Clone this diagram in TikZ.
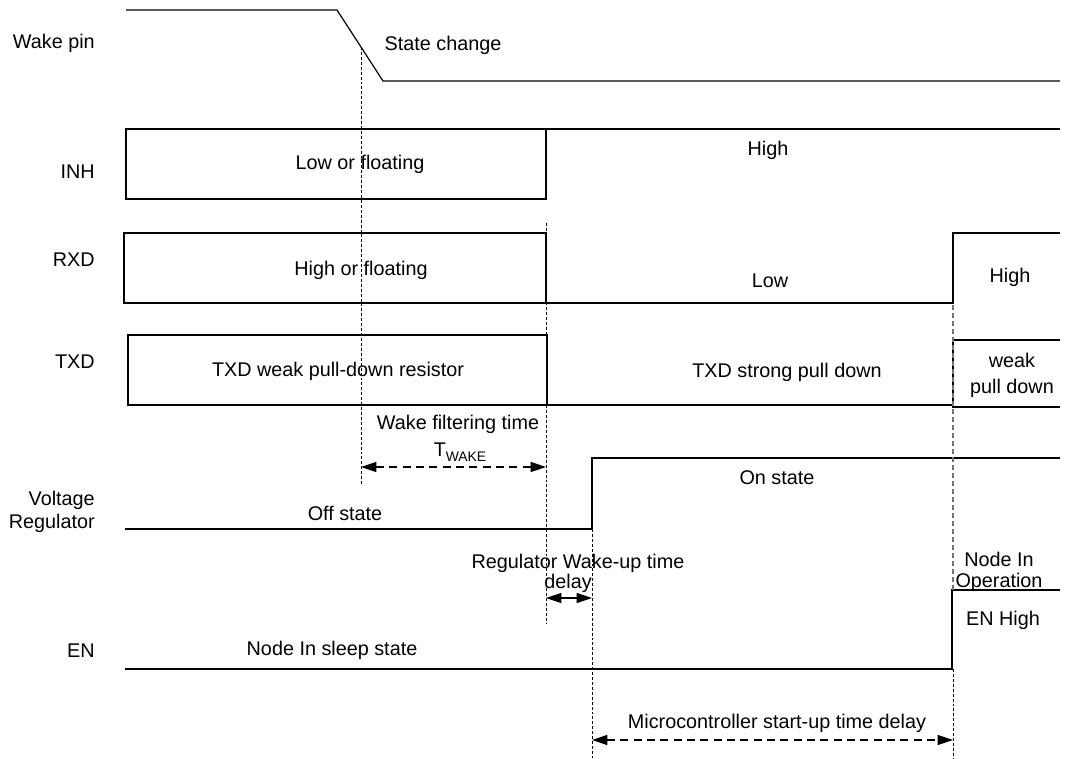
\documentclass[tikz,border=0pt]{standalone}
\usepackage{fontspec}
\setmainfont{Liberation Sans}
\usetikzlibrary{arrows.meta}
\begin{document}
\begin{tikzpicture}[x=0.75pt,y=-0.75pt,
  sig/.style={line width=0.9pt, line join=miter},
  vmark/.style={line width=0.6pt, dash pattern=on 2.2pt off 1.5pt},
  vmarkg/.style={line width=0.9pt, draw=black!55, dash pattern=on 3.5pt off 2.5pt},
  tip/.tip={Triangle[length=11.5pt,width=7.5pt]},
  span/.style={line width=0.9pt, dash pattern=on 6pt off 4pt, tip-tip},
  spansolid/.style={line width=0.9pt, tip-tip},
  lbl/.style={inner sep=0pt, font=\fontsize{14.85}{17.8}\selectfont},
]
\useasboundingbox (0,0) rectangle (1065,758);

% signal traces
\draw[sig] (126,10) -- (337,10) -- (383,81) -- (1060,81);
\draw[sig] (126,129) rectangle (546,199);
\draw[sig] (546,129) -- (1060,129);
\draw[sig] (124,233) rectangle (546,303);
\draw[sig] (546,303) -- (953,303) -- (953,233) -- (1060,233);
\draw[sig] (128,335) rectangle (547,405);
\draw[sig] (547,405) -- (953,405);
\draw[sig] (1060,340) -- (953,340) -- (953,407) -- (1060,407);
\draw[sig] (125,529) -- (592,529) -- (592,458) -- (1060,458);
\draw[sig] (125,669) -- (952,669) -- (952,590) -- (1060,590);

% vertical markers
\draw[vmark] (361,47) -- (361,485);
\draw[vmark] (546,223) -- (546,623);
\draw[vmark] (592,529) -- (592,758);
\draw[vmarkg] (953,305) -- (953,590);
\draw[vmark] (953,669) -- (953,758);

% timing arrows
\coordinate (wA) at (361,467);
\coordinate (wB) at (546,467);
\coordinate (rA) at (546,598);
\coordinate (rB) at (592,598);
\coordinate (mA) at (592,740);
\coordinate (mB) at (953,740);
\draw[span] (wA) -- (wB);
\draw[spansolid] (rA) -- (rB);
\draw[span] (mA) -- (mB);

% signal names
\node[lbl, anchor=east] (nWake) at (95,43) {Wake pin};
\node[lbl, anchor=east] (nINH) at (95,172) {INH};
\node[lbl, anchor=east] (nRXD) at (95,260) {RXD};
\node[lbl, anchor=east] (nTXD) at (95,362) {TXD};
\node[lbl, anchor=east, align=right] (nVR) at (95,512) {Voltage\\Regulator};
\node[lbl, anchor=east] (nEN) at (95,651) {EN};

% state texts
\node[lbl] (tState) at (443,45) {State change};
\node[lbl] (tLowF) at (360,164) {Low or floating};
\node[lbl] (tHighINH) at (768,150) {High};
\node[lbl] (tHighF) at (361,270) {High or floating};
\node[lbl] (tLowRXD) at (770,281) {Low};
\node[lbl] (tHighRXD) at (1010,277) {High};
\node[lbl] (tWeakR) at (338,371) {TXD weak pull-down resistor};
\node[lbl] (tStrong) at (787,372) {TXD strong pull down};
\node[lbl, align=center, font=\fontsize{14.85}{19.5}\selectfont] (tWeak) at (1012,375) {weak\\pull down};
\node[lbl] (tWakeF) at (458,424) {Wake filtering time};
\node[lbl] (tTwake) at (460,452) {T\raisebox{-0.45ex}{\fontsize{10.4}{10.4}\selectfont WAKE}};
\node[lbl] (tOn) at (777,478) {On state};
\node[lbl] (tOff) at (345,513) {Off state};
\node[lbl] (tRegW) at (578,563) {Regulator Wake-up time};
\node[lbl] (tDelay) at (568,583) {delay};
\node[lbl, align=center, font=\fontsize{14.85}{15.75}\selectfont] (tNodeOp) at (999,572) {Node In\\Operation};
\node[lbl] (tENH) at (1003,620) {EN High};
\node[lbl] (tSleep) at (332,650) {Node In sleep state};
\node[lbl] (tMicro) at (777,723) {Microcontroller start-up time delay};
\end{tikzpicture}
\end{document}
